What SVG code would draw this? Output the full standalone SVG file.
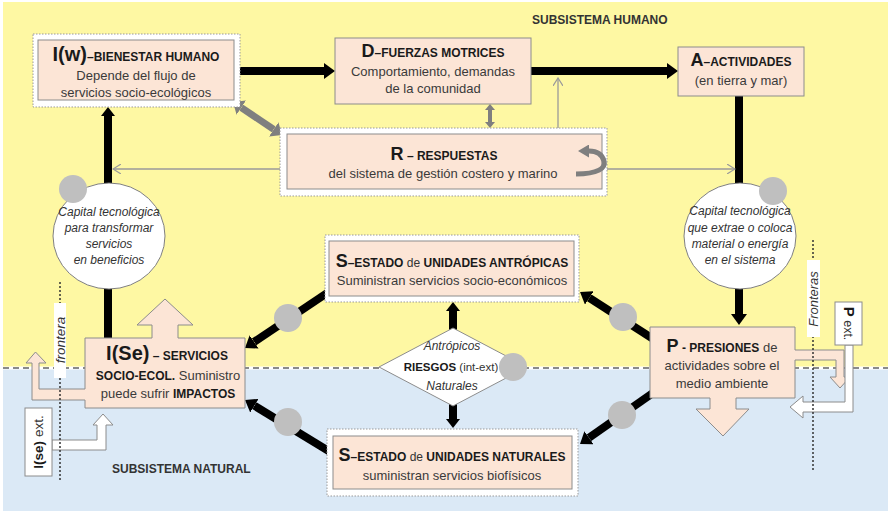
<svg xmlns="http://www.w3.org/2000/svg" width="890" height="511" viewBox="0 0 890 511">
<defs>
<style>
.t{font-family:'Liberation Sans',Arial,sans-serif;fill:#333}
.big{font-size:18px;font-weight:bold;fill:#1a1a1a}
.bigI{font-size:20px;font-weight:bold;fill:#1a1a1a}
.sc{font-size:12px;font-weight:bold;fill:#1a1a1a}
.bd{font-size:13px;fill:#3a3a3a}
.it{font-size:12px;font-style:italic;fill:#333}
.frame{fill:#fff;stroke:#9a9a9a;stroke-width:1;stroke-dasharray:1.5 1.5}
.box{fill:#FCE5D6;stroke:#8c8c8c;stroke-width:1}
.blk{fill:none;stroke:#000;stroke-width:8}
.gry{fill:none;stroke:#7f7f7f}
.thin{fill:none;stroke:#9a9a9a;stroke-width:1.3}
.dot{fill:#bfbfbf}
.cap{fill:#fff;stroke:#7f7f7f;stroke-width:1}
.bound{fill:none;stroke:#333;stroke-width:1.5;stroke-dasharray:2 2}
.lbl{fill:#fff;stroke:#8c8c8c;stroke-width:1}
</style>
<marker id="ah" markerUnits="userSpaceOnUse" markerWidth="11" markerHeight="16" viewBox="0 0 11 16" refX="0" refY="8" orient="auto"><path d="M0,0 L11,8 L0,16 z" fill="#000"/></marker>
<marker id="ahs" markerUnits="userSpaceOnUse" markerWidth="9" markerHeight="14" viewBox="0 0 9 14" refX="0" refY="7" orient="auto"><path d="M0,0 L9,7 L0,14 z" fill="#000"/></marker>
<marker id="gah" markerUnits="userSpaceOnUse" markerWidth="10" markerHeight="17" viewBox="0 0 10 17" refX="0" refY="8.5" orient="auto-start-reverse"><path d="M0,0 L10,8.5 L0,17 z" fill="#7f7f7f"/></marker>
<marker id="gahs" markerUnits="userSpaceOnUse" markerWidth="6" markerHeight="10" viewBox="0 0 6 10" refX="0" refY="5" orient="auto-start-reverse"><path d="M0,0 L6,5 L0,10 z" fill="#7f7f7f"/></marker>
<marker id="gahc" markerUnits="userSpaceOnUse" markerWidth="11" markerHeight="13" viewBox="0 0 11 13" refX="0" refY="6.5" orient="auto"><path d="M0,0 L11,6.5 L0,13 z" fill="#7f7f7f"/></marker>
<marker id="chev" markerUnits="userSpaceOnUse" markerWidth="9" markerHeight="10" viewBox="0 0 9 10" refX="8" refY="5" orient="auto"><path d="M0,0 L8,5 L0,10" fill="none" stroke="#9a9a9a" stroke-width="1.2"/></marker>
</defs>

<g id="background">
<rect x="3" y="2" width="885" height="366" fill="#FEF8A3"/>
<rect x="3" y="368" width="885" height="143" fill="#DBE9F6"/>
<line x1="3" y1="368" x2="888" y2="368" stroke="#fff" stroke-width="3"/>
<line x1="3" y1="368" x2="888" y2="368" stroke="#8a8a8a" stroke-width="2" stroke-dasharray="6 4"/>
<text class="t" x="532" y="24" font-size="12" font-weight="bold" fill="#1a1a1a">SUBSISTEMA HUMANO</text>
<text class="t" x="112" y="473" font-size="12" font-weight="bold" fill="#1a1a1a">SUBSISTEMA NATURAL</text>
</g>

<g id="connectors">
<path class="blk" d="M240,71 H324" marker-end="url(#ah)"/>
<path class="blk" d="M531,71 H667" marker-end="url(#ah)"/>
<path class="blk" d="M739,96 V236"/>
<path class="blk" d="M739,236 V314" marker-end="url(#ah)"/>
<path class="blk" d="M108,338 V116" stroke-width="7" marker-end="url(#ahs)"/>
<path class="blk" d="M331.2,290.2 L254.1,341.9" marker-end="url(#ah)"/>
<path class="blk" d="M655,340.2 L589.3,297.9" marker-end="url(#ah)"/>
<path class="blk" d="M655,391.5 L589,437.7" marker-end="url(#ah)"/>
<path class="blk" d="M331.3,452.6 L254.4,405.7" marker-end="url(#ah)"/>
<path class="blk" d="M453,330 V311" marker-end="url(#ahs)"/>
<path class="blk" d="M453,404 V419" marker-end="url(#ahs)"/>
<path class="gry" stroke-width="7" d="M241.3,107.6 L273.7,129.4" marker-start="url(#gah)" marker-end="url(#gah)"/>
<path class="gry" stroke-width="4" d="M490,110 V122" marker-start="url(#gahs)" marker-end="url(#gahs)"/>
<path class="thin" d="M558,128 V78" marker-end="url(#chev)"/>
<path class="thin" d="M280,169 H113" marker-end="url(#chev)"/>
<path class="thin" d="M607,169 H735" marker-end="url(#chev)"/>
<circle class="dot" cx="288" cy="318" r="14"/>
<circle class="dot" cx="623" cy="317" r="14"/>
<circle class="dot" cx="622" cy="415" r="14"/>
<circle class="dot" cx="288" cy="422" r="14"/>
</g>

<g id="node-iw">
<rect class="frame" x="33" y="34" width="207" height="73"/>
<rect class="box" x="38" y="40" width="196" height="60"/>
<text class="t" x="136" y="61" text-anchor="middle"><tspan class="bigI" font-size="21">I(w)</tspan><tspan class="sc">–BIENESTAR HUMANO</tspan></text>
<text class="t bd" x="136" y="80" text-anchor="middle">Depende del flujo de</text>
<text class="t bd" x="136" y="97" text-anchor="middle">servicios socio-ecológicos</text>
</g>

<g id="node-d">
<rect class="box" x="335" y="38" width="196" height="66"/>
<text class="t" x="433" y="57" text-anchor="middle"><tspan class="big">D</tspan><tspan class="sc">–FUERZAS MOTRICES</tspan></text>
<text class="t bd" x="433" y="76" text-anchor="middle">Comportamiento, demandas</text>
<text class="t bd" x="433" y="93" text-anchor="middle">de la comunidad</text>
</g>

<g id="node-a">
<rect class="box" x="678" y="47" width="126" height="49"/>
<text class="t" x="741" y="66" text-anchor="middle"><tspan class="big">A</tspan><tspan class="sc">–ACTIVIDADES</tspan></text>
<text class="t bd" x="741" y="85" text-anchor="middle">(en tierra y mar)</text>
</g>

<g id="node-r">
<rect class="frame" x="280" y="128" width="327" height="68"/>
<rect class="box" x="287" y="134" width="315" height="55"/>
<text class="t" x="444" y="160" text-anchor="middle"><tspan class="big">R</tspan><tspan class="sc" font-size="11.5"> – RESPUESTAS</tspan></text>
<text class="t bd" x="443" y="178" text-anchor="middle">del sistema de gestión costero y marino</text>
<path class="gry" stroke-width="5" d="M576,174 C598,174 606,168 604,161 C602,154 596,151 589,151" marker-end="url(#gahc)"/>
</g>

<g id="node-cap-left">
<ellipse class="cap" cx="109" cy="236" rx="56" ry="53"/>
<circle class="dot" cx="73" cy="189" r="14"/>
<text class="t it" x="109" y="216" text-anchor="middle">Capital tecnológica</text>
<text class="t it" x="109" y="232" text-anchor="middle">para transformar</text>
<text class="t it" x="109" y="248" text-anchor="middle">servicios</text>
<text class="t it" x="109" y="264" text-anchor="middle">en beneficios</text>
</g>

<g id="node-cap-right">
<ellipse class="cap" cx="740" cy="236" rx="56" ry="53"/>
<circle class="dot" cx="773" cy="191" r="14"/>
<text class="t it" x="740" y="215" text-anchor="middle">Capital tecnológica</text>
<text class="t it" x="740" y="232" text-anchor="middle">que extrae o coloca</text>
<text class="t it" x="740" y="248" text-anchor="middle">material o energía</text>
<text class="t it" x="740" y="264" text-anchor="middle">en el sistema</text>
</g>

<g id="node-s-antropicas">
<rect class="frame" x="325" y="235" width="254" height="67"/>
<rect class="box" x="329" y="241" width="245" height="55"/>
<text class="t" x="452" y="267" text-anchor="middle"><tspan class="big">S</tspan><tspan class="sc">–ESTADO </tspan><tspan font-size="12" fill="#333">de</tspan><tspan class="sc"> UNIDADES ANTRÓPICAS</tspan></text>
<text class="t bd" x="452" y="285" text-anchor="middle">Suministran servicios socio-económicos</text>
</g>

<g id="node-riesgos">
<polygon points="453,328 527,367 453,406 379,367" fill="#fff" stroke="#8c8c8c" stroke-width="1"/>
<text class="t it" x="452" y="350" text-anchor="middle">Antrópicos</text>
<text class="t" x="451" y="371" text-anchor="middle" font-size="11.5"><tspan font-weight="bold" fill="#1a1a1a">RIESGOS</tspan> (int-ext)</text>
<text class="t it" x="452" y="390" text-anchor="middle">Naturales</text>
<circle class="dot" cx="513" cy="367" r="14"/>
</g>

<g id="node-s-naturales">
<rect class="frame" x="327" y="429" width="251" height="67"/>
<rect class="box" x="333" y="436" width="239" height="53"/>
<text class="t" x="452" y="461" text-anchor="middle"><tspan class="big">S</tspan><tspan class="sc">–ESTADO </tspan><tspan font-size="12" fill="#333">de</tspan><tspan class="sc"> UNIDADES NATURALES</tspan></text>
<text class="t bd" x="452" y="480" text-anchor="middle">suministran servicios biofísicos</text>
</g>

<g id="node-ise">
<path class="box" d="M85,338 H152 V325 H137 L165,299 L193,325 H178 V338 H245 V408 H85 V400 H32 V363 H26 L35.5,352 L46,363 H39 V389 H85 Z"/>
<text class="t" x="167" y="360" text-anchor="middle"><tspan class="bigI">I(Se)</tspan><tspan class="sc"> – SERVICIOS</tspan></text>
<text class="t" x="168" y="380" text-anchor="middle"><tspan class="sc">SOCIO-ECOL.</tspan><tspan class="bd"> Suministro</tspan></text>
<text class="t" x="168" y="398" text-anchor="middle"><tspan class="bd">puede sufrir </tspan><tspan class="sc">IMPACTOS</tspan></text>
</g>

<g id="node-p">
<path class="box" d="M650,327 H795 V350 H844 V377 H850 L840,388 L830,377 H836 V360 H795 V398 H736 V409 H749 L723,436 L696,409 H710 V398 H650 Z"/>
<text class="t" x="722" y="352" text-anchor="middle"><tspan class="big">P</tspan><tspan class="sc"> - PRESIONES</tspan><tspan class="bd"> de</tspan></text>
<text class="t bd" x="722" y="370" text-anchor="middle">actividades sobre el</text>
<text class="t bd" x="722" y="388" text-anchor="middle">medio ambiente</text>
</g>

<g id="node-ise-ext">
<path class="lbl" d="M52,440 H97 V425 H93 L103,414 L113,425 H106 V450 H52 Z"/>
<rect class="lbl" x="25" y="408" width="27" height="68"/>
<text class="t" transform="translate(43,442) rotate(-90)" text-anchor="middle" font-size="13.5"><tspan font-weight="bold" fill="#1a1a1a">I(se)</tspan> ext.</text>
</g>

<g id="node-p-ext">
<path class="lbl" d="M845,345 V402 H803 V396 L790,407 L803,418 V412 H853 V345 Z"/>
<rect class="lbl" x="835" y="302" width="27" height="43"/>
<text class="t" transform="translate(844,323.5) rotate(90)" text-anchor="middle" font-size="12.5"><tspan font-weight="bold" font-size="15" fill="#1a1a1a">P</tspan> ext.</text>
</g>

<g id="boundaries">
<line class="bound" x1="60" y1="282" x2="60" y2="482"/>
<rect x="54" y="303" width="12" height="75" fill="#fff"/>
<text class="t" transform="translate(64.5,340) rotate(-90)" text-anchor="middle" font-size="13.5" font-style="italic">frontera</text>
<line class="bound" x1="813" y1="240" x2="813" y2="470"/>
<rect x="807" y="260" width="13" height="77" fill="#fff"/>
<text class="t" transform="translate(818,299) rotate(-90)" text-anchor="middle" font-size="13" font-style="italic">Fronteras</text>
</g>
</svg>
